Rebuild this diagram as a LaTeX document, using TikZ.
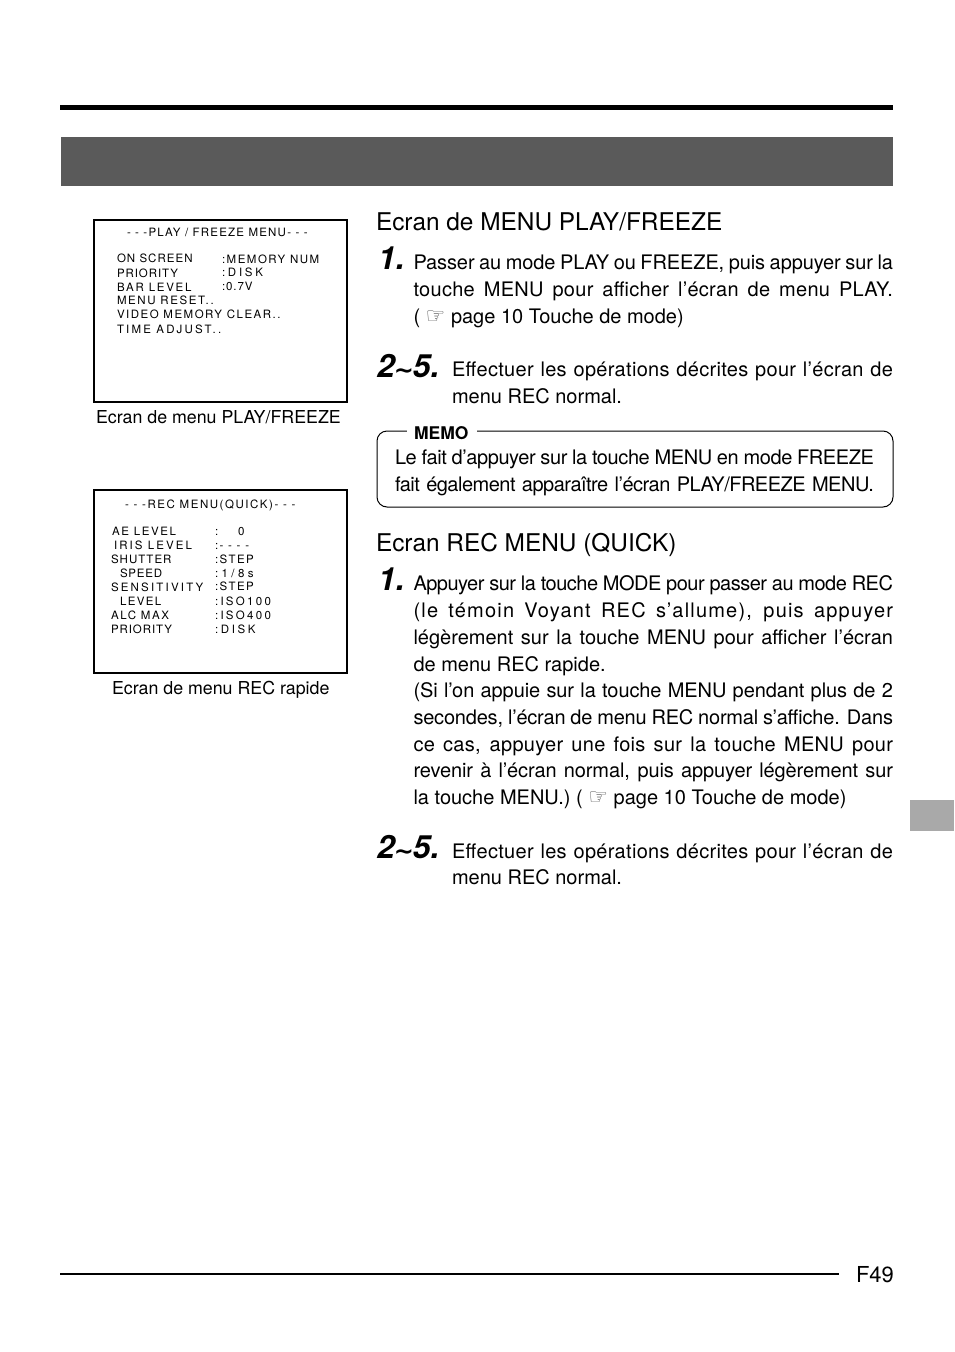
\documentclass[tikz,border=0pt]{standalone}
\usepackage{fontspec}
\setmainfont{TeX Gyre Heros}
\newfontfamily\symfont{DejaVu Sans}
\newcounter{tn}
\definecolor{band}{HTML}{5A5A5A}
\definecolor{tabgray}{HTML}{A9A9A9}
\tikzset{txt/.style={anchor=base west,inner sep=0pt,outer sep=0pt},
  rulebar/.style={fill=black,draw=none},
  osdbox/.style={draw=black,line width=1.5pt},
  memobox/.style={draw=black,line width=1pt,rounded corners=10pt}}
\newcommand{\tl}[3]{\stepcounter{tn}\node[txt] (t\arabic{tn}) at (#1,#2) {#3};}
\newcommand{\body}[3]{\tl{#1}{#2}{\fontsize{20}{24}\selectfont #3}}
\newcommand{\jl}[5][0]{\tl{#2}{#3}{\fontsize{20}{24}\addfontfeature{LetterSpace=#1}\hbox to #4pt{\spaceskip=.278em plus 5em minus .2em\relax #5}}}
\newcommand{\head}[3]{\tl{#1}{#2}{\fontsize{24.4}{30}\selectfont #3}}
\newcommand{\capt}[3]{\tl{#1}{#2}{\fontsize{17.8}{22}\selectfont #3}}
\newcommand{\osd}[4][9]{\tl{#2}{#3}{\fontsize{11.5}{14}\addfontfeature{LetterSpace=#1}#4}}
\newcommand{\num}[3]{\tl{#1}{#2}{\fontsize{32}{40}\selectfont\bfseries\itshape #3}}
\newcommand{\tildemark}{\kern-1pt\raisebox{-1pt}{\symfont\fontsize{24}{24}\selectfont\bfseries\char`\~}\kern-1pt}
\newcommand{\hand}{{\symfont\color{black!65}\fontsize{22}{20}\selectfont ☞}}
\begin{document}
\begin{tikzpicture}[x=1pt,y=-1pt]
\useasboundingbox (0,0) rectangle (954,1352);
\fill[white] (0,0) rectangle (954,1352);
\fill[rulebar] (60,105) rectangle (893,110);
\fill[band] (61,137) rectangle (893,186);
\fill[tabgray] (910,800) rectangle (954,831);
\fill[rulebar] (60,1273) rectangle (839,1275);
\tl{856}{1282}{\fontsize{22}{26}\selectfont F49}

% left screens
\draw[osdbox] (94,220) rectangle (347,402);
\osd[10.6]{127}{236}{- - -PLAY / FREEZE MENU- - -}
\osd{117}{262}{ON SCREEN}\osd[13]{222}{263}{:MEMORY NUM}
\osd[8]{117}{277}{PRIORITY}\osd[24]{222}{276}{:DISK}
\osd[15]{117}{291}{BAR LEVEL}\osd[8]{222}{290}{:0.7V}
\osd[14]{117}{304}{MENU RESET..}
\osd[13]{117}{318}{VIDEO MEMORY CLEAR..}
\osd[19]{117}{333}{TIME ADJUST..}
\capt{96}{423}{Ecran de menu PLAY/FREEZE}

\draw[osdbox] (94,490) rectangle (347,673);
\osd[13.5]{125}{508}{- - -REC MENU(QUICK)- - -}
\osd[14]{112}{535}{AE LEVEL}\osd{215}{535}{:\hspace{20pt}0}
\osd[18]{114}{549}{IRIS LEVEL}\osd[13]{215}{549}{:- - - -}
\osd[9]{111}{563}{SHUTTER}\osd[13]{215}{563}{:STEP}
\osd[7]{120}{577}{SPEED}\osd[30]{215}{577}{:1/8s}
\osd[19]{111}{591}{SENSITIVITY}\osd[13]{215}{590}{:STEP}
\osd[12]{120}{605}{LEVEL}\osd[20]{215}{605}{:ISO100}
\osd[14]{111}{619}{ALC MAX}\osd[20]{215}{619}{:ISO400}
\osd[8]{111}{633}{PRIORITY}\osd[23]{215}{633}{:DISK}
\capt{112}{694}{Ecran de menu REC rapide}

% first section
\head{376}{230}{Ecran de MENU PLAY/FREEZE}
\num{378}{269}{1.}
\jl[-0.5]{413.5}{269}{479.5}{Passer au mode PLAY ou FREEZE, puis appuyer sur la}
\jl[1.5]{413.5}{296}{479.5}{touche MENU pour afficher l’écran de menu PLAY.}
\body{413.5}{323}{( \hand{} page 10 Touche de mode)}
\num{377}{377}{2\tildemark 5.}
\jl[1.5]{452}{376}{441}{Effectuer les opérations décrites pour l’écran de}
\body{452}{403}{menu REC normal.}

% memo
\draw[memobox] (377,431) rectangle (893,507);
\fill[white] (407,425) rectangle (477,437);
\tl{414}{439}{\fontsize{17.5}{20}\selectfont\bfseries MEMO}
\jl[-2]{395}{464}{479}{Le fait d’appuyer sur la touche MENU en mode FREEZE}
\jl[-2.5]{395}{491}{479}{fait également apparaître l’écran PLAY/FREEZE MENU.}

% second section
\head{376}{551}{Ecran REC MENU (QUICK)}
\num{378}{590}{1.}
\jl[-2.5]{413.5}{590}{479.5}{Appuyer sur la touche MODE pour passer au mode REC}
\jl[6]{413.5}{617}{479.5}{(le témoin Voyant REC s’allume), puis appuyer}
\jl[0]{413.5}{644}{479.5}{légèrement sur la touche MENU pour afficher l’écran}
\body{413.5}{671}{de menu REC rapide.}
\jl[-0.5]{413.5}{697}{479.5}{(Si l’on appuie sur la touche MENU pendant plus de 2}
\jl[-1]{413.5}{724}{479.5}{secondes, l’écran de menu REC normal s’affiche. Dans}
\jl[1.5]{413.5}{751}{479.5}{ce cas, appuyer une fois sur la touche MENU pour}
\jl[-0.5]{413.5}{777}{479.5}{revenir à l’écran normal, puis appuyer légèrement sur}
\body{413.5}{804}{la touche MENU.) ( \hand{} page 10 Touche de mode)}
\num{377}{858}{2\tildemark 5.}
\jl[1.5]{452}{858}{441}{Effectuer les opérations décrites pour l’écran de}
\body{452}{884}{menu REC normal.}
\end{tikzpicture}
\end{document}
